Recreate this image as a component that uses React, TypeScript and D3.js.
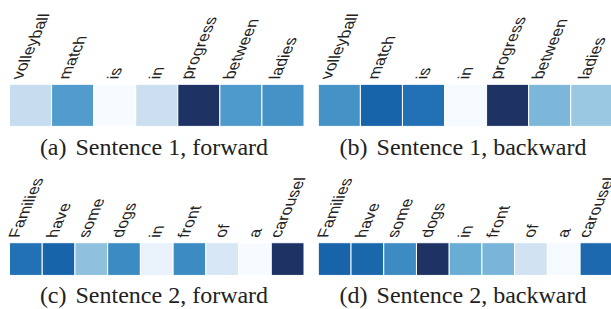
import React, { useRef, useEffect } from "react";
import * as d3 from "d3";

// words and attention weights (0 = lightest, 1 = darkest)
const sentence1Words = ["volleyball", "match", "is", "in", "progress", "between", "ladies"];
const sentence1Forward = [0.24, 0.58, 0.0, 0.22, 1.0, 0.59, 0.62];
const sentence1Backward = [0.62, 0.8, 0.75, 0.01, 1.0, 0.46, 0.38];

const sentence2Words = ["Families", "have", "some", "dogs", "in", "front", "of", "a", "carousel"];
const sentence2Forward = [0.75, 0.8, 0.41, 0.65, 0.07, 0.65, 0.16, 0.0, 1.0];
const sentence2Backward = [0.8, 0.79, 0.65, 1.0, 0.51, 0.47, 0.19, 0.01, 0.78];

const captionTags = ["(a)", "(b)", "(c)", "(d)"];
const captionTexts = [
  "Sentence 1, forward",
  "Sentence 1, backward",
  "Sentence 2, forward",
  "Sentence 2, backward",
];

const W = 611;
const H = 309;

const App = () => {
  const svgRef = useRef<SVGSVGElement>(null);

  useEffect(() => {
    const svg = d3.select(svgRef.current);
    svg.selectAll("*").remove();

    const color = d3
      .scaleSequential(
        d3.interpolateRgbBasis([...d3.schemeBlues[9].slice(0, 8), "#1e3364"])
      )
      .domain([0, 1]);

    const stripW = 294.5;
    const panels = [
      { words: sentence1Words, values: sentence1Forward, x0: 9.5, top: 84.3, capY: 155, capX: 154 },
      { words: sentence1Words, values: sentence1Backward, x0: 318.3, top: 84.3, capY: 155, capX: 463 },
      { words: sentence2Words, values: sentence2Forward, x0: 9.5, top: 242.7, capY: 303, capX: 154 },
      { words: sentence2Words, values: sentence2Backward, x0: 318.3, top: 242.7, capY: 303, capX: 463 },
    ];

    // labels are turned upright and then sheared (stems stay horizontal)
    const skew = -23;
    const tk = Math.tan((skew * Math.PI) / 180);
    const place = (px: number, py: number) => [py - px * tk, -px];

    panels.forEach((p, k) => {
      const x = d3
        .scaleBand<string>()
        .domain(p.words.map((w, i) => i + ""))
        .range([p.x0, p.x0 + stripW])
        .padding(0);
      const bw = x.bandwidth();
      const g = svg.append("g");

      g.selectAll("rect")
        .data(p.values)
        .enter()
        .append("rect")
        .attr("x", (d, i) => x(i + "")!)
        .attr("y", p.top)
        .attr("width", bw)
        .attr("height", bw)
        .attr("fill", (d) => color(d))
        .attr("stroke", "#fff")
        .attr("stroke-width", 1);

      // word labels, bbox centred over each cell
      p.words.forEach((w, i) => {
        const t = g
          .append("text")
          .text(w)
          .attr("font-family", "'Liberation Sans', Arial, sans-serif")
          .attr("font-size", 16)
          .attr("fill", "#222");
        const bb = (t.node() as SVGTextElement).getBBox();
        const pts = [
          place(bb.x, bb.y),
          place(bb.x + bb.width, bb.y),
          place(bb.x, bb.y + bb.height),
          place(bb.x + bb.width, bb.y + bb.height),
        ];
        const minX = d3.min(pts, (q) => q[0])!;
        const maxX = d3.max(pts, (q) => q[0])!;
        const maxY = d3.max(pts, (q) => q[1])!;
        const cx = x(i + "")! + bw / 2;
        const tx = cx - (minX + maxX) / 2;
        const ty = p.top - 5 - maxY;
        t.attr("transform", `translate(${tx},${ty}) skewX(${skew}) rotate(-90)`);
      });

      const cap = g
        .append("text")
        .attr("x", p.capX)
        .attr("y", p.capY)
        .attr("text-anchor", "middle")
        .attr("font-family", "'Liberation Serif', 'Times New Roman', serif")
        .attr("font-size", 24)
        .attr("fill", "#222")
        .style("white-space", "pre");
      cap.append("tspan").text(captionTags[k]);
      cap.append("tspan").attr("dx", 3).text(" " + captionTexts[k]);
    });
  }, []);

  return (
    <svg
      ref={svgRef}
      width={W}
      height={H}
      style={{ position: "absolute", left: 0, top: 0, background: "#fff" }}
    ></svg>
  );
};

export default App;
